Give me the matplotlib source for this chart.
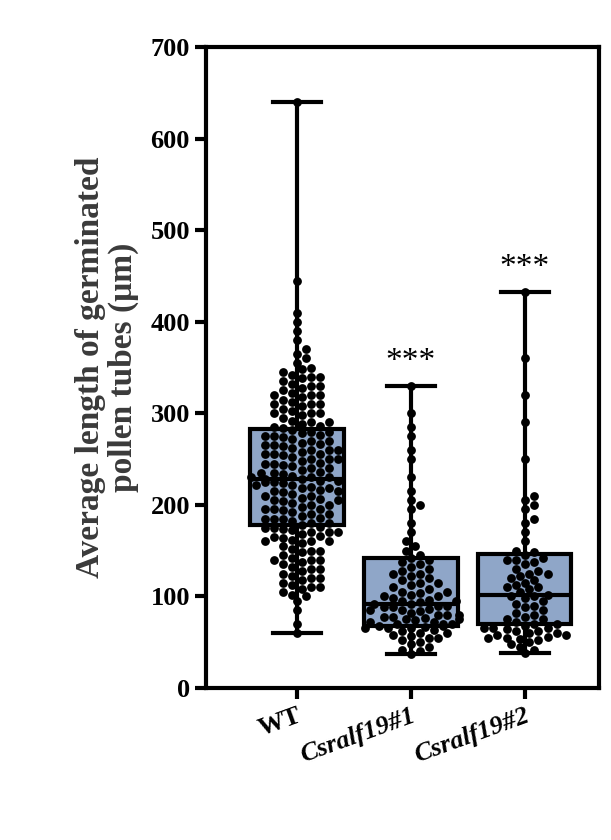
import matplotlib
matplotlib.use("Agg")
import matplotlib.pyplot as plt
import numpy as np

groups = ["WT", "Csralf19#1", "Csralf19#2"]
box_stats = {  # min, q1, median, q3, max
    "WT": (60, 178, 228, 283, 640),
    "Csralf19#1": (37, 68, 92, 142, 330),
    "Csralf19#2": (38, 70, 102, 146, 432),
}
wt_vals = [60, 70, 85, 95, 100, 102, 105, 108, 110, 112, 115, 118, 120, 122, 125, 128, 130, 132, 135, 138,
           140, 142, 145, 148, 150, 152, 155, 158, 160, 162, 164, 166, 168, 170, 172, 174, 176, 178, 180, 182,
           184, 186, 188, 190, 192, 194, 196, 198, 200, 202, 204, 206, 208, 210, 212, 214, 216, 218, 220, 222,
           224, 226, 228, 230, 232, 234, 236, 238, 240, 242, 244, 246, 248, 250, 252, 254, 256, 258, 260, 262,
           264, 266, 268, 270, 272, 274, 276, 278, 280, 282, 284, 286, 288, 290, 292, 295, 298, 300, 302, 305,
           308, 310, 312, 315, 318, 320, 322, 325, 328, 330, 332, 335, 338, 340, 342, 345, 348, 350, 355, 360,
           365, 370, 380, 390, 400, 410, 445, 640,
           165, 175, 185, 195, 205, 215, 225, 235, 245, 255, 265, 275, 285, 230, 228, 226, 222, 218, 210, 200,
           190, 180, 170, 160, 150, 140, 250, 260, 270, 300, 310, 320, 330, 340, 120, 130, 110, 140, 160, 175,
           215, 225, 235, 245, 255, 265, 275, 205, 195, 185, 230, 240, 250, 260, 280, 290, 300, 310, 320, 170]
m1_vals = [37, 40, 42, 45, 48, 50, 52, 55, 57, 58, 60, 62, 63, 65, 66, 67, 68, 68, 70, 70, 72, 72, 74, 75, 76,
           78, 78, 80, 80, 82, 84, 85, 86, 88, 88, 90, 90, 92, 92, 94, 95, 96, 98, 100, 100, 102, 104, 105, 108,
           110, 112, 115, 118, 120, 122, 125, 128, 130, 132, 135, 138, 140, 142, 145, 150, 155, 160, 170, 180,
           195, 200, 205, 215, 230, 250, 260, 275, 285, 300, 330, 55, 60, 65, 75, 85, 95, 105, 115, 125, 70, 80]
m2_vals = [38, 42, 45, 48, 50, 52, 54, 55, 56, 58, 60, 60, 62, 62, 64, 65, 66, 68, 70, 70, 72, 75, 78, 80, 82,
           85, 88, 90, 92, 95, 98, 100, 100, 102, 105, 108, 110, 112, 115, 118, 120, 122, 125, 128, 130, 135,
           138, 140, 142, 145, 148, 150, 160, 170, 180, 185, 195, 200, 205, 210, 250, 290, 320, 360, 432,
           55, 58, 65, 75, 110, 125, 140]
values = {"WT": wt_vals, "Csralf19#1": m1_vals, "Csralf19#2": m2_vals}
stars = ["", "***", "***"]
yticks = [0, 100, 200, 300, 400, 500, 600, 700]

plt.rcParams["font.family"] = ["Liberation Serif", "DejaVu Serif"]
fig = plt.figure(figsize=(6.11, 8.40), dpi=100)
ax = fig.add_axes([0.337, 0.181, 0.643, 0.763])

def swarm(vals, r_data_y, r_x, lim):
    placed = []
    xs = []
    for v in vals:
        off = 0.0
        k = 0
        while True:
            cand = [0.0] if k == 0 else [k * r_x, -k * r_x]
            found = None
            for c in cand:
                if all(((c - px) / (2 * r_x)) ** 2 + ((v - py) / (2 * r_data_y)) ** 2 >= 0.55 for px, py in placed):
                    found = c
                    break
            if found is not None:
                off = found
                break
            k += 1
            if k * r_x > lim:
                off = (len(xs) % 7 - 3) / 3 * lim
                break
        placed.append((off, v))
        xs.append(off)
    return np.array(xs)

for i, g in enumerate(groups):
    mn, q1, med, q3, mx = box_stats[g]
    st = [dict(med=med, q1=q1, q3=q3, whislo=mn, whishi=mx, fliers=[])]
    ax.bxp(st, positions=[i], widths=0.82, patch_artist=True, showfliers=False,
           boxprops=dict(facecolor="#8fa6c8", edgecolor="black", linewidth=3),
           medianprops=dict(color="black", linewidth=3),
           whiskerprops=dict(color="black", linewidth=3),
           capprops=dict(color="black", linewidth=3), capwidths=0.42, zorder=1)
    v = np.array(values[g])
    xs = swarm(v, 6.0, 0.04, 0.42)
    ax.scatter(i + xs, v, s=40, color="black", zorder=3, linewidths=0)
    if stars[i]:
        ax.text(i, mx + 10, stars[i], ha="center", va="bottom", fontsize=24)

ax.set_xlim(-0.8, 2.65)
ax.set_ylim(0, 700)
ax.set_yticks(yticks)
ax.set_yticklabels([str(t) for t in yticks], fontsize=19, fontweight="bold")
ax.set_xticks(range(3))
ax.set_xticklabels(groups, rotation=20, ha="right", rotation_mode="anchor", fontsize=19, fontweight="bold")
for lab in ax.get_xticklabels()[1:]:
    lab.set_fontstyle("italic")
for s in ax.spines.values():
    s.set_linewidth(3)
ax.tick_params(width=3, length=8)
ax.set_ylabel("Average length of germinated\npollen tubes (μm)", fontsize=24, fontweight="bold",
              color="#3a3a3a", labelpad=8, linespacing=1.1)
fig.savefig("out.png", dpi=100)
